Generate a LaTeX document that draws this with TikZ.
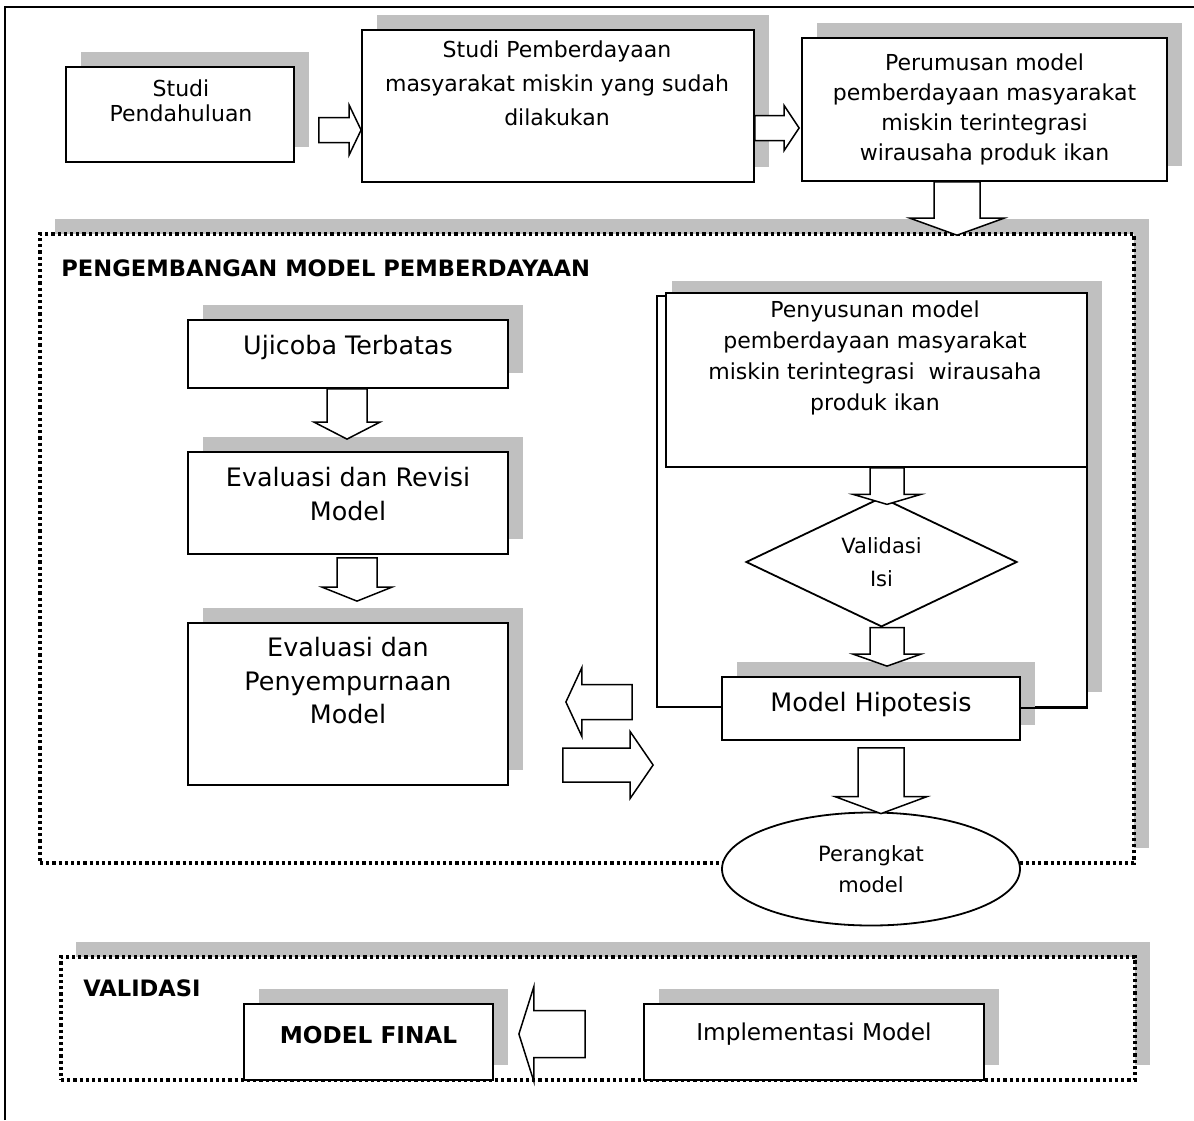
\documentclass[tikz,border=0pt]{standalone}
\usepackage{fontspec}
\setmainfont{DejaVu Sans}
\usepackage{xcolor}
\usepackage{tikz}
\usetikzlibrary{calc,shapes.geometric,shadows}

\definecolor{abu}{RGB}{192,192,192}

\begin{document}
\begin{tikzpicture}[
  x = 0.5pt, y = -0.5pt,
  kotak/.style = {draw, line width = 0.9pt, fill = white, align = center, inner sep = 0pt},
  bayang/.style = {drop shadow = {shadow xshift = 7.5pt, shadow yshift = 7.5pt, fill = abu, opacity = 1}},
  bingkai/.style = {draw, line width = 1.8pt, dash pattern = on 1.6pt off 1.5pt, fill = white, inner sep = 0pt},
  tulis/.style = {align = center, inner sep = 0pt},
  kecil/.style = {font = \fontsize{11}{15}\selectfont},
  besar/.style = {font = \fontsize{12.7}{16.75}\selectfont},
  judul/.style = {font = \bfseries\fontsize{11.3}{13}\selectfont, inner sep = 0pt, anchor = west},
  fat/.style n args = {3}{draw, line width = 0.75pt, fill = white,
    to path = {
      ($(\tikztotarget)!#3!(\tikztostart)$) coordinate (fat-b)
      ($(\tikztostart)!#1!90:(\tikztotarget)$)
      -- ($(fat-b)!#1!90:(\tikztotarget)$)
      -- ($(fat-b)!#2!90:(\tikztotarget)$)
      -- (\tikztotarget)
      -- ($(fat-b)!#2!-90:(\tikztotarget)$)
      -- ($(fat-b)!#1!-90:(\tikztotarget)$)
      -- ($(\tikztostart)!#1!-90:(\tikztotarget)$)
      -- cycle}}
  ]
  \useasboundingbox (0,0) rectangle (1194,1120);
  \draw[line width = 0.9pt] (5,1120) -- (5,7) -- (1194,7);

  \node[bingkai, bayang, minimum width = 547pt, minimum height = 314.5pt] (kotakpengembangan) at (587,548.5) {};
  \node[judul] (judul1) at (61,268) {PENGEMBANGAN MODEL PEMBERDAYAAN};
  \node[bingkai, bayang, minimum width = 537pt, minimum height = 61.5pt] (kotakvalidasi) at (598,1018.5) {};
  \node[judul] (judul2) at (83,988) {VALIDASI};

  \node[kotak, bayang, minimum width = 114pt, minimum height = 47.5pt] (pendahuluan) at (180,114.5) {};
  \node[tulis, font = \fontsize{11}{12.5}\selectfont] (pendahuluan-t) at (181,101) {Studi\\Pendahuluan};
  \node[kotak, bayang, minimum width = 196pt, minimum height = 76pt] (pemberdayaan) at (558,106) {};
  \node[tulis, font = \fontsize{11}{17}\selectfont] (pemberdayaan-t) at (557,83) {Studi Pemberdayaan\\masyarakat miskin yang sudah\\dilakukan};
  \node[kotak, bayang, kecil, minimum width = 182.5pt, minimum height = 71.5pt] (perumusan) at (984.5,109.5) {Perumusan model\\pemberdayaan masyarakat\\miskin terintegrasi\\wirausaha produk ikan};

  \node[kotak, bayang, besar, text height = 8pt, text depth = 7.9pt, minimum width = 160pt, minimum height = 34pt] (ujicoba) at (348,354) {Ujicoba Terbatas};
  \node[kotak, bayang, minimum width = 160pt, minimum height = 51pt] (evalrev) at (348,503) {};
  \node[tulis, besar] (evalrev-t) at (348,494) {Evaluasi dan Revisi\\Model};
  \node[kotak, bayang, minimum width = 160pt, minimum height = 81pt] (evalpeny) at (348,704) {};
  \node[tulis, besar] (evalpeny-t) at (348,681) {Evaluasi dan\\Penyempurnaan\\Model};

  \node[kotak, bayang, minimum width = 215pt, minimum height = 205.5pt] (siklus) at (872,501.5) {};
  \node[kotak, minimum width = 210.5pt, minimum height = 87pt] (penyusunan) at (876.5,380) {};
  \node[tulis, font = \fontsize{11}{15.5}\selectfont] (penyusunan-t) at (875,358) {Penyusunan model\\pemberdayaan masyarakat\\miskin terintegrasi\ \ wirausaha\\produk ikan};
  \node[kotak, diamond, font = \fontsize{10.5}{16.5}\selectfont, minimum width = 135.5pt, minimum height = 62pt] (validasi) at (881.5,562) {Validasi\\Isi};
  \node[kotak, bayang, besar, text height = 9pt, text depth = 6.4pt, minimum width = 149pt, minimum height = 31.5pt] (hipotesis) at (871,708.5) {Model Hipotesis};
  \draw[line width = 0.9pt] (hipotesis.east |- siklus.south) -- (siklus.south east);
  \node[kotak, ellipse, font = \fontsize{10.5}{15.5}\selectfont, minimum width = 149pt, minimum height = 56.5pt] (perangkat) at (871,869) {Perangkat\\model};

  \node[kotak, bayang, font = \bfseries\fontsize{11.6}{14}\selectfont, text height = 8pt, text depth = 6.65pt, minimum width = 124.5pt, minimum height = 38pt] (modelfinal) at (368.5,1042) {MODEL FINAL};
  \node[kotak, bayang, font = \fontsize{11.6}{14}\selectfont, text height = 8pt, text depth = 9.6pt, minimum width = 170pt, minimum height = 38pt] (implementasi) at (814,1042) {Implementasi Model};

  \draw[fat = {6.25pt}{12.5pt}{6pt}] ($(pendahuluan.east |- 0,130)+(24,0)$) to (pemberdayaan.west |- 0,130);
  \draw[fat = {6.25pt}{11.25pt}{7.5pt}] (pemberdayaan.east |- 0,128) to ($(perumusan.west |- 0,128)+(-2,0)$);
  \draw[fat = {11.5pt}{23.5pt}{8.5pt}] (perumusan.south -| 957,0) to ($(kotakpengembangan.north -| 957,0)+(0,3)$);
  \draw[fat = {10pt}{16.5pt}{8.5pt}] (ujicoba.south -| 347,0) to ($(evalrev.north -| 347,0)+(0,-12)$);
  \draw[fat = {10pt}{17.5pt}{7pt}] ($(evalrev.south -| 357,0)+(0,3)$) to ($(evalpeny.north -| 357,0)+(0,-21)$);
  \draw[fat = {8.5pt}{17pt}{5pt}] (penyusunan.south -| 887,0) to ($(validasi.north -| 887,0)+(0,8)$);
  \draw[fat = {8.5pt}{17pt}{6pt}] (validasi.south -| 887,0) to ($(hipotesis.north -| 887,0)+(0,-10)$);
  \draw[fat = {11.5pt}{23pt}{8.5pt}] ($(hipotesis.south -| 881,0)+(0,7)$) to ($(perangkat.north -| 881,0)+(0,2)$);
  \draw[fat = {8.75pt}{17.25pt}{8pt}] ($(siklus.west |- 0,702)+(-24,0)$) to ($(evalpeny.east |- 0,702)+(57,0)$);
  \draw[fat = {8.5pt}{16.75pt}{11.5pt}] ($(evalpeny.east |- 0,765)+(54,0)$) to ($(siklus.west |- 0,765)+(-3,0)$);
  \draw[fat = {11.75pt}{23.75pt}{7.5pt}] ($(implementasi.west |- 0,1034)+(-58,0)$) to ($(modelfinal.east |- 0,1034)+(25,0)$);
\end{tikzpicture}
\end{document}
